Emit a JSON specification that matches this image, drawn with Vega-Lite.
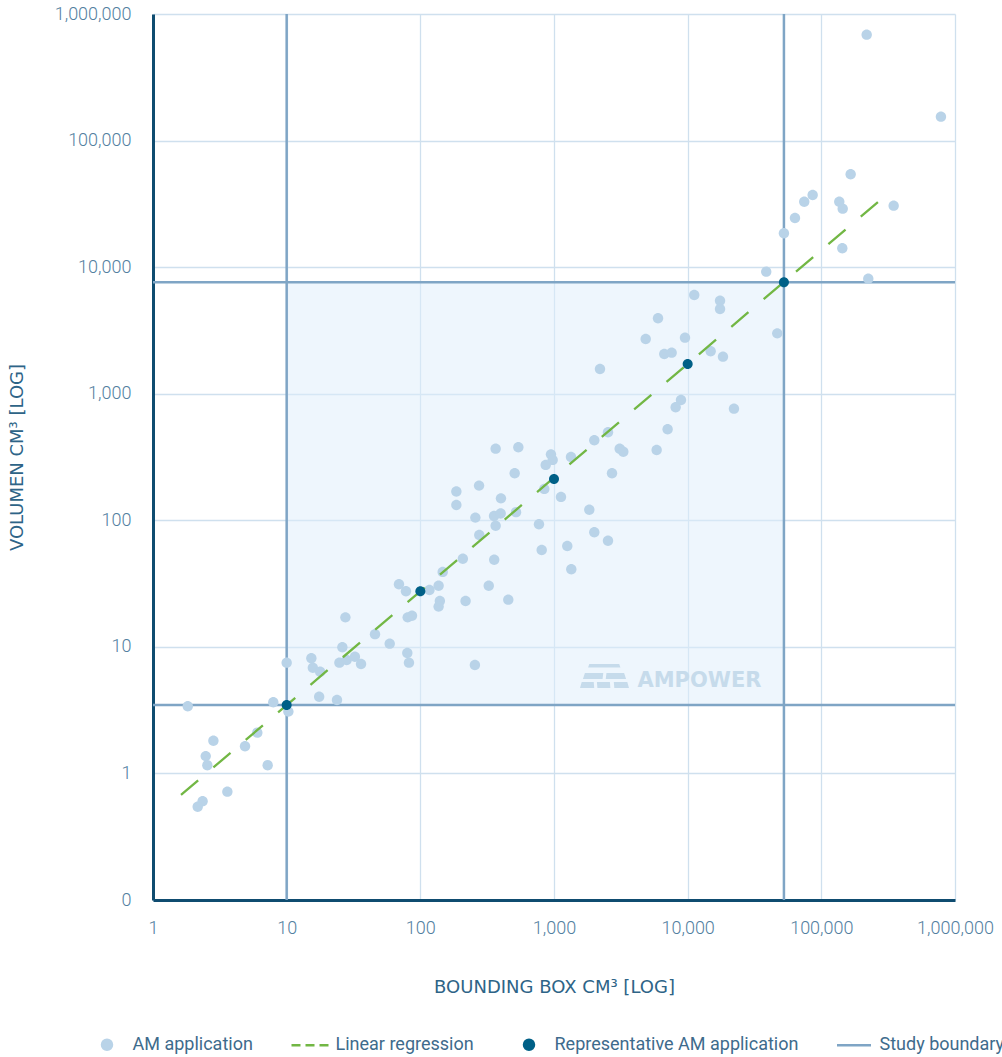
{
  "$schema": "https://vega.github.io/schema/vega-lite/v6.json",
  "width": 802,
  "height": 886,
  "autosize": {"type": "none"},
  "padding": {"left": 153, "top": 14, "right": 47, "bottom": 157},
  "background": "white",
  "config": {
    "view": {"stroke": null},
    "font": "Roboto",
    "axis": {
      "labelFont": "Roboto",
      "labelFontSize": 18,
      "labelFontWeight": 300,
      "labelColor": "#52809f",
      "labelFlush": false,
      "titleFont": "DejaVu Sans",
      "titleFontSize": 18,
      "titleFontWeight": 400,
      "titleColor": "#2e6487",
      "ticks": false,
      "domainColor": "#0f4c70",
      "domainWidth": 3,
      "gridColor": "#cfe0ee",
      "gridWidth": 1.3
    }
  },
  "datasets": {
    "am": [
      {"x": 1.82, "y": 3.39, "series": "AM application"},
      {"x": 7.94, "y": 3.65, "series": "AM application"},
      {"x": 10.0, "y": 7.5, "series": "AM application"},
      {"x": 10.3, "y": 3.08, "series": "AM application"},
      {"x": 2.83, "y": 1.81, "series": "AM application"},
      {"x": 2.48, "y": 1.37, "series": "AM application"},
      {"x": 2.55, "y": 1.16, "series": "AM application"},
      {"x": 4.88, "y": 1.64, "series": "AM application"},
      {"x": 6.03, "y": 2.1, "series": "AM application"},
      {"x": 7.21, "y": 1.16, "series": "AM application"},
      {"x": 3.6, "y": 0.718, "series": "AM application"},
      {"x": 2.35, "y": 0.603, "series": "AM application"},
      {"x": 2.16, "y": 0.546, "series": "AM application"},
      {"x": 15.3, "y": 8.12, "series": "AM application"},
      {"x": 15.7, "y": 6.84, "series": "AM application"},
      {"x": 17.8, "y": 6.36, "series": "AM application"},
      {"x": 17.5, "y": 4.04, "series": "AM application"},
      {"x": 23.8, "y": 3.8, "series": "AM application"},
      {"x": 26.1, "y": 9.93, "series": "AM application"},
      {"x": 24.8, "y": 7.5, "series": "AM application"},
      {"x": 28.1, "y": 7.87, "series": "AM application"},
      {"x": 32.4, "y": 8.36, "series": "AM application"},
      {"x": 36.0, "y": 7.32, "series": "AM application"},
      {"x": 45.8, "y": 12.6, "series": "AM application"},
      {"x": 59.0, "y": 10.6, "series": "AM application"},
      {"x": 79.9, "y": 8.95, "series": "AM application"},
      {"x": 82.2, "y": 7.5, "series": "AM application"},
      {"x": 256, "y": 7.19, "series": "AM application"},
      {"x": 366, "y": 368, "series": "AM application"},
      {"x": 541, "y": 378, "series": "AM application"},
      {"x": 949, "y": 332, "series": "AM application"},
      {"x": 977, "y": 300, "series": "AM application"},
      {"x": 867, "y": 274, "series": "AM application"},
      {"x": 508, "y": 235, "series": "AM application"},
      {"x": 846, "y": 177, "series": "AM application"},
      {"x": 1128, "y": 153, "series": "AM application"},
      {"x": 275, "y": 188, "series": "AM application"},
      {"x": 186, "y": 169, "series": "AM application"},
      {"x": 186, "y": 132, "series": "AM application"},
      {"x": 401, "y": 149, "series": "AM application"},
      {"x": 258, "y": 105, "series": "AM application"},
      {"x": 356, "y": 108, "series": "AM application"},
      {"x": 399, "y": 113, "series": "AM application"},
      {"x": 520, "y": 116, "series": "AM application"},
      {"x": 366, "y": 90.6, "series": "AM application"},
      {"x": 772, "y": 93.0, "series": "AM application"},
      {"x": 276, "y": 76.5, "series": "AM application"},
      {"x": 809, "y": 58.2, "series": "AM application"},
      {"x": 208, "y": 49.7, "series": "AM application"},
      {"x": 357, "y": 48.8, "series": "AM application"},
      {"x": 147, "y": 39.1, "series": "AM application"},
      {"x": 69.2, "y": 31.2, "series": "AM application"},
      {"x": 78.1, "y": 27.5, "series": "AM application"},
      {"x": 117, "y": 28.1, "series": "AM application"},
      {"x": 137, "y": 30.4, "series": "AM application"},
      {"x": 325, "y": 30.4, "series": "AM application"},
      {"x": 140, "y": 23.0, "series": "AM application"},
      {"x": 137, "y": 20.8, "series": "AM application"},
      {"x": 218, "y": 23.0, "series": "AM application"},
      {"x": 455, "y": 23.6, "series": "AM application"},
      {"x": 27.5, "y": 17.1, "series": "AM application"},
      {"x": 80.4, "y": 17.1, "series": "AM application"},
      {"x": 86.6, "y": 17.6, "series": "AM application"},
      {"x": 38700, "y": 9210, "series": "AM application"},
      {"x": 11200, "y": 6030, "series": "AM application"},
      {"x": 17460, "y": 5430, "series": "AM application"},
      {"x": 17460, "y": 4670, "series": "AM application"},
      {"x": 6000, "y": 3945, "series": "AM application"},
      {"x": 4853, "y": 2706, "series": "AM application"},
      {"x": 9550, "y": 2773, "series": "AM application"},
      {"x": 46800, "y": 3000, "series": "AM application"},
      {"x": 6683, "y": 2061, "series": "AM application"},
      {"x": 7590, "y": 2110, "series": "AM application"},
      {"x": 14860, "y": 2163, "series": "AM application"},
      {"x": 18370, "y": 1963, "series": "AM application"},
      {"x": 2208, "y": 1567, "series": "AM application"},
      {"x": 8913, "y": 891, "series": "AM application"},
      {"x": 8130, "y": 781, "series": "AM application"},
      {"x": 22200, "y": 762, "series": "AM application"},
      {"x": 7080, "y": 524, "series": "AM application"},
      {"x": 2535, "y": 496, "series": "AM application"},
      {"x": 2002, "y": 429, "series": "AM application"},
      {"x": 3100, "y": 368, "series": "AM application"},
      {"x": 3300, "y": 348, "series": "AM application"},
      {"x": 5860, "y": 359, "series": "AM application"},
      {"x": 1340, "y": 316, "series": "AM application"},
      {"x": 2716, "y": 235, "series": "AM application"},
      {"x": 1837, "y": 121, "series": "AM application"},
      {"x": 2002, "y": 80.4, "series": "AM application"},
      {"x": 2535, "y": 69.0, "series": "AM application"},
      {"x": 1257, "y": 62.7, "series": "AM application"},
      {"x": 1347, "y": 41.0, "series": "AM application"},
      {"x": 218400, "y": 687000, "series": "AM application"},
      {"x": 785000, "y": 154500, "series": "AM application"},
      {"x": 165700, "y": 54200, "series": "AM application"},
      {"x": 86100, "y": 37150, "series": "AM application"},
      {"x": 74500, "y": 32900, "series": "AM application"},
      {"x": 136200, "y": 32900, "series": "AM application"},
      {"x": 144500, "y": 28970, "series": "AM application"},
      {"x": 347600, "y": 30600, "series": "AM application"},
      {"x": 63500, "y": 24450, "series": "AM application"},
      {"x": 52500, "y": 18520, "series": "AM application"},
      {"x": 143500, "y": 14090, "series": "AM application"},
      {"x": 224500, "y": 8110, "series": "AM application"}
    ],
    "regression": [
      {"x": 1.62, "y": 0.676, "series": "Linear regression"},
      {"x": 305000, "y": 37100, "series": "Linear regression"}
    ],
    "representative": [
      {"x": 10, "y": 3.47, "series": "Representative AM application"},
      {"x": 100, "y": 27.5, "series": "Representative AM application"},
      {"x": 1000, "y": 212, "series": "Representative AM application"},
      {"x": 10000, "y": 1720, "series": "Representative AM application"},
      {"x": 52500, "y": 7600, "series": "Representative AM application"}
    ],
    "vbound": [
      {"x": 10, "series": "Study boundary"},
      {"x": 52500, "series": "Study boundary"}
    ],
    "hbound": [
      {"y": 3.47, "series": "Study boundary"},
      {"y": 7600, "series": "Study boundary"}
    ],
    "region": [
      {"x": 10, "x2": 52500, "y": 3.47, "y2": 7600}
    ],
    "watermark": [
      {"label": "AMPOWER"}
    ]
  },
  "layer": [
    {
      "data": {"name": "region"},
      "mark": {"type": "rect", "color": "#ddeefb", "opacity": 0.5},
      "encoding": {
        "x": {
          "field": "x", "type": "quantitative",
          "scale": {"type": "log", "domain": [1, 1000000], "nice": false},
          "axis": {
            "values": [1, 10, 100, 1000, 10000, 100000, 1000000],
            "format": ",",
            "title": "BOUNDING BOX CM³ [LOG]",
            "labelPadding": 19,
            "titlePadding": 41,
            "grid": true
          }
        },
        "x2": {"field": "x2"},
        "y": {
          "field": "y", "type": "quantitative",
          "scale": {"type": "log", "domain": [0.1, 1000000], "nice": false},
          "axis": {
            "values": [0.1, 1, 10, 100, 1000, 10000, 100000, 1000000],
            "format": ",.0f",
            "title": "VOLUMEN CM³ [LOG]",
            "labelPadding": 22,
            "titlePadding": 28,
            "grid": true
          }
        },
        "y2": {"field": "y2"}
      }
    },
    {
      "data": {"name": "watermark"},
      "mark": {
        "type": "point", "filled": true, "opacity": 1, "color": "#c6dbeb", "size": 2401,
        "shape": "M-0.62,-0.49L0.6,-0.49L0.65,-0.35L-0.67,-0.35ZM-0.8,-0.12L-0.05,-0.12L-0.08,0.12L-0.88,0.12ZM0.08,-0.12L0.8,-0.12L0.88,0.12L0.05,0.12ZM-0.93,0.245L-0.44,0.245L-0.42,0.49L-1,0.49ZM-0.31,0.245L0.22,0.245L0.24,0.49L-0.29,0.49ZM0.38,0.245L0.93,0.245L1,0.49L0.4,0.49Z"
      },
      "encoding": {
        "x": {"datum": 2387, "type": "quantitative", "scale": {"type": "log", "domain": [1, 1000000], "nice": false}},
        "y": {"datum": 5.89, "type": "quantitative", "scale": {"type": "log", "domain": [0.1, 1000000], "nice": false}}
      }
    },
    {
      "data": {"name": "watermark"},
      "mark": {"type": "text", "font": "DejaVu Sans", "fontSize": 21, "fontWeight": "bold", "color": "#c6dbeb", "align": "center", "baseline": "middle"},
      "encoding": {
        "text": {"field": "label"},
        "x": {"datum": 12250, "type": "quantitative", "scale": {"type": "log", "domain": [1, 1000000], "nice": false}},
        "y": {"datum": 5.37, "type": "quantitative", "scale": {"type": "log", "domain": [0.1, 1000000], "nice": false}}
      }
    },
    {
      "data": {"name": "vbound"},
      "mark": {"type": "rule", "strokeWidth": 2.5},
      "encoding": {
        "x": {"field": "x", "type": "quantitative", "scale": {"type": "log", "domain": [1, 1000000], "nice": false}},
        "color": {
          "field": "series", "type": "nominal",
          "scale": {
            "domain": ["AM application", "Linear regression", "Representative AM application", "Study boundary"],
            "range": ["#b9d3e8", "#72b744", "#006087", "#7fa5c5"]
          }
        }
      }
    },
    {
      "data": {"name": "hbound"},
      "mark": {"type": "rule", "strokeWidth": 2.5},
      "encoding": {
        "y": {"field": "y", "type": "quantitative", "scale": {"type": "log", "domain": [0.1, 1000000], "nice": false}},
        "color": {
          "field": "series", "type": "nominal",
          "scale": {
            "domain": ["AM application", "Linear regression", "Representative AM application", "Study boundary"],
            "range": ["#b9d3e8", "#72b744", "#006087", "#7fa5c5"]
          }
        }
      }
    },
    {
      "data": {"name": "am"},
      "mark": {"type": "point", "filled": true, "opacity": 1, "size": 1730},
      "encoding": {
        "x": {"field": "x", "type": "quantitative", "scale": {"type": "log", "domain": [1, 1000000], "nice": false}},
        "y": {"field": "y", "type": "quantitative", "scale": {"type": "log", "domain": [0.1, 1000000], "nice": false}},
        "color": {
          "field": "series", "type": "nominal",
          "scale": {
            "domain": ["AM application", "Linear regression", "Representative AM application", "Study boundary"],
            "range": ["#b9d3e8", "#72b744", "#006087", "#7fa5c5"]
          },
          "legend": {
            "title": null,
            "orient": "none",
            "legendX": -67.5,
            "legendY": 1009,
            "direction": "horizontal",
            "columns": 4,
            "columnPadding": 33,
            "labelOffset": 4,
            "labelFont": "Roboto",
            "labelFontSize": 18,
            "labelColor": "#3e6b8c",
            "labelLimit": 400,
            "symbolSize": 1600,
            "symbolStrokeWidth": 2.5,
            "symbolOpacity": 1
          }
        },
        "shape": {
          "field": "series", "type": "nominal",
          "scale": {
            "domain": ["AM application", "Linear regression", "Representative AM application", "Study boundary"],
            "range": [
              "M-0.25,0A0.25,0.25,0,1,1,0.25,0A0.25,0.25,0,1,1,-0.25,0Z",
              "M-0.925,0H-0.475M-0.225,0H0.225M0.475,0H0.925",
              "M-0.25,0A0.25,0.25,0,1,1,0.25,0A0.25,0.25,0,1,1,-0.25,0Z",
              "M-0.85,0H0.85"
            ]
          }
        }
      }
    },
    {
      "data": {"name": "regression"},
      "mark": {"type": "line", "strokeWidth": 2.3, "strokeDash": [22.5, 20], "strokeCap": "butt"},
      "encoding": {
        "x": {"field": "x", "type": "quantitative", "scale": {"type": "log", "domain": [1, 1000000], "nice": false}},
        "y": {"field": "y", "type": "quantitative", "scale": {"type": "log", "domain": [0.1, 1000000], "nice": false}},
        "color": {
          "field": "series", "type": "nominal",
          "scale": {
            "domain": ["AM application", "Linear regression", "Representative AM application", "Study boundary"],
            "range": ["#b9d3e8", "#72b744", "#006087", "#7fa5c5"]
          }
        }
      }
    },
    {
      "data": {"name": "representative"},
      "mark": {"type": "point", "filled": true, "opacity": 1, "size": 1600},
      "encoding": {
        "x": {"field": "x", "type": "quantitative", "scale": {"type": "log", "domain": [1, 1000000], "nice": false}},
        "y": {"field": "y", "type": "quantitative", "scale": {"type": "log", "domain": [0.1, 1000000], "nice": false}},
        "color": {
          "field": "series", "type": "nominal",
          "scale": {
            "domain": ["AM application", "Linear regression", "Representative AM application", "Study boundary"],
            "range": ["#b9d3e8", "#72b744", "#006087", "#7fa5c5"]
          }
        },
        "shape": {
          "field": "series", "type": "nominal",
          "scale": {
            "domain": ["AM application", "Linear regression", "Representative AM application", "Study boundary"],
            "range": [
              "M-0.25,0A0.25,0.25,0,1,1,0.25,0A0.25,0.25,0,1,1,-0.25,0Z",
              "M-0.925,0H-0.475M-0.225,0H0.225M0.475,0H0.925",
              "M-0.25,0A0.25,0.25,0,1,1,0.25,0A0.25,0.25,0,1,1,-0.25,0Z",
              "M-0.85,0H0.85"
            ]
          }
        }
      }
    }
  ]
}
